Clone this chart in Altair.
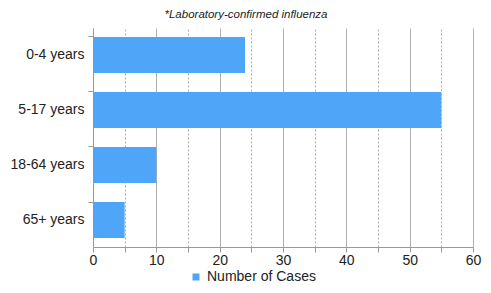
import altair as alt
import pandas as pd

categories = ["0-4 years", "5-17 years", "18-64 years", "65+ years"]
cases = [24, 55, 10, 5]
series_name = "Number of Cases"
x_ticks = [0, 5, 10, 15, 20, 25, 30, 35, 40, 45, 50, 55, 60]

df = pd.DataFrame({"group": categories, "cases": cases, "series": [series_name] * len(categories)})

grid_dash = {"condition": {"test": "datum.value % 10 != 0", "value": [2, 2]}, "value": []}

chart = alt.Chart(df).mark_bar(color="#4fa6f8").encode(
    x=alt.X("cases:Q", scale=alt.Scale(domain=[0, 60], nice=False),
            axis=alt.Axis(title=None, values=x_ticks, grid=True, gridColor="#b0b0b0",
                          gridDash=grid_dash, gridWidth=1,
                          labelExpr="datum.value % 10 == 0 ? datum.label : ''",
                          labelFont="Liberation Sans", labelFontSize=14, labelColor="#222",
                          labelPadding=1, tickColor="#999", tickSize=5,
                          domainColor="#999", labelFlush=False)),
    y=alt.Y("group:N", sort=categories, scale=alt.Scale(paddingInner=0.345, paddingOuter=0.163),
            axis=alt.Axis(title=None, labelFont="Liberation Sans", labelFontSize=14,
                          labelColor="#222", tickColor="#999", tickSize=5, bandPosition=0,
                          domainColor="#999", labelPadding=4)),
    color=alt.Color("series:N", scale=alt.Scale(range=["#4fa6f8"]),
                    legend=alt.Legend(title=None, orient="none", legendX=96, legendY=242,
                                      symbolType="square", symbolSize=49, symbolOffset=0,
                                      labelOffset=4,
                                      labelFont="Liberation Sans",
                                      labelFontSize=14, labelColor="#222")),
).properties(
    width=380, height=219,
    title=alt.TitleParams("*Laboratory-confirmed influenza", fontSize=11.5, fontStyle="italic",
                          font="Liberation Sans", fontWeight="normal", color="#222",
                          anchor="middle", frame="group", offset=8, dx=-37),
    padding={"left": 85, "top": 20, "right": 10, "bottom": 38},
    autosize=alt.AutoSizeParams(type="none"),
).configure_view(stroke=None)

chart.save("out.html", embed_options={"renderer": "svg", "actions": False})
